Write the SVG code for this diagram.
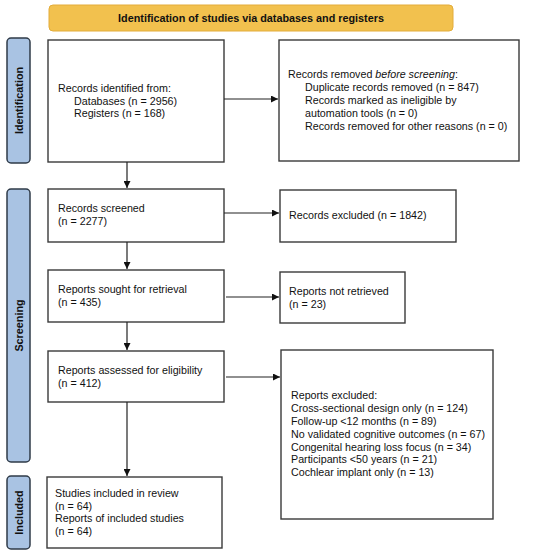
<svg xmlns="http://www.w3.org/2000/svg" width="550" height="553" viewBox="0 0 550 553">
<style>
.box{fill:#fff;stroke:#3a3a3a;stroke-width:1.4}
.side{fill:#a9c3e3;stroke:#2f3b48;stroke-width:1.5}
.t{font-family:"Liberation Sans",Arial,sans-serif;font-size:10.7px;fill:#111}
.st{font-family:"Liberation Sans",Arial,sans-serif;font-size:10.8px;font-weight:bold;fill:#111}
.c{stroke:#222;stroke-width:1.2;fill:none;marker-end:url(#ah)}
</style>
<defs>
<marker id="ah" viewBox="0 0 10 10" refX="10" refY="5" markerWidth="7" markerHeight="7" markerUnits="userSpaceOnUse" orient="auto">
<path d="M0,0 L10,5 L0,10 z" fill="#111"/>
</marker>
</defs>
<rect width="550" height="553" fill="#fff"/>
<g id="header">
<rect x="49" y="5" width="404" height="26" rx="4" fill="#f2c14e" stroke="#e3ac3a" stroke-width="1"/>
<text class="st" x="251" y="22" text-anchor="middle" font-size="10.6px">Identification of studies via databases and registers</text>
</g>
<g id="side-identification">
<rect class="side" x="7" y="38" width="23" height="125" rx="4"/>
<text class="st" transform="translate(22.5,100.5) rotate(-90)" text-anchor="middle">Identification</text>
</g>
<g id="side-screening">
<rect class="side" x="7" y="189" width="23" height="273" rx="4"/>
<text class="st" transform="translate(22.5,325.5) rotate(-90)" text-anchor="middle">Screening</text>
</g>
<g id="side-included">
<rect class="side" x="7" y="476" width="23" height="73" rx="4"/>
<text class="st" transform="translate(22.5,512.5) rotate(-90)" text-anchor="middle">Included</text>
</g>
<g id="records-identified">
<rect class="box" x="48" y="40" width="176" height="122"/>
<text class="t" x="58" y="92">Records identified from:</text>
<text class="t" x="74" y="104.5">Databases (n = 2956)</text>
<text class="t" x="74" y="117">Registers (n = 168)</text>
</g>
<g id="records-removed">
<rect class="box" x="279" y="40" width="240" height="121"/>
<text class="t" x="288" y="78">Records removed <tspan font-style="italic">before screening</tspan>:</text>
<text class="t" x="305" y="91">Duplicate records removed (n = 847)</text>
<text class="t" x="305" y="104">Records marked as ineligible by</text>
<text class="t" x="305" y="117">automation tools (n = 0)</text>
<text class="t" x="305" y="130">Records removed for other reasons (n = 0)</text>
</g>
<g id="records-screened">
<rect class="box" x="48" y="189" width="176" height="53"/>
<text class="t" x="58" y="212">Records screened</text>
<text class="t" x="58" y="225">(n = 2277)</text>
</g>
<g id="records-excluded">
<rect class="box" x="280" y="190" width="176" height="52"/>
<text class="t" x="289" y="219">Records excluded (n = 1842)</text>
</g>
<g id="reports-sought">
<rect class="box" x="48" y="270" width="176" height="52"/>
<text class="t" x="58" y="293">Reports sought for retrieval</text>
<text class="t" x="58" y="306">(n = 435)</text>
</g>
<g id="reports-not-retrieved">
<rect class="box" x="280" y="272" width="125" height="51"/>
<text class="t" x="289" y="295">Reports not retrieved</text>
<text class="t" x="289" y="308">(n = 23)</text>
</g>
<g id="reports-assessed">
<rect class="box" x="48" y="351" width="176" height="51"/>
<text class="t" x="58" y="374">Reports assessed for eligibility</text>
<text class="t" x="58" y="387">(n = 412)</text>
</g>
<g id="reports-excluded">
<rect class="box" x="281" y="350" width="212" height="169"/>
<text class="t" x="291" y="399">Reports excluded:</text>
<text class="t" x="291" y="412">Cross-sectional design only (n = 124)</text>
<text class="t" x="291" y="425">Follow-up &lt;12 months (n = 89)</text>
<text class="t" x="291" y="437.5">No validated cognitive outcomes (n = 67)</text>
<text class="t" x="291" y="450.5">Congenital hearing loss focus (n = 34)</text>
<text class="t" x="291" y="463">Participants &lt;50 years (n = 21)</text>
<text class="t" x="291" y="476">Cochlear implant only (n = 13)</text>
</g>
<g id="studies-included">
<rect class="box" x="47" y="477" width="175" height="71"/>
<text class="t" x="55" y="497">Studies included in review</text>
<text class="t" x="55" y="510">(n = 64)</text>
<text class="t" x="55" y="522">Reports of included studies</text>
<text class="t" x="55" y="535">(n = 64)</text>
</g>
<g id="connectors">
<line class="c" x1="224" y1="99" x2="278" y2="99"/>
<line class="c" x1="127" y1="162" x2="127" y2="188"/>
<line class="c" x1="224" y1="213" x2="279" y2="213"/>
<line class="c" x1="127" y1="242" x2="127" y2="269"/>
<line class="c" x1="226" y1="297" x2="279" y2="297"/>
<line class="c" x1="127" y1="322" x2="127" y2="350"/>
<line class="c" x1="226" y1="377" x2="280" y2="377"/>
<line class="c" x1="127" y1="402" x2="127" y2="476"/>
</g>
</svg>
